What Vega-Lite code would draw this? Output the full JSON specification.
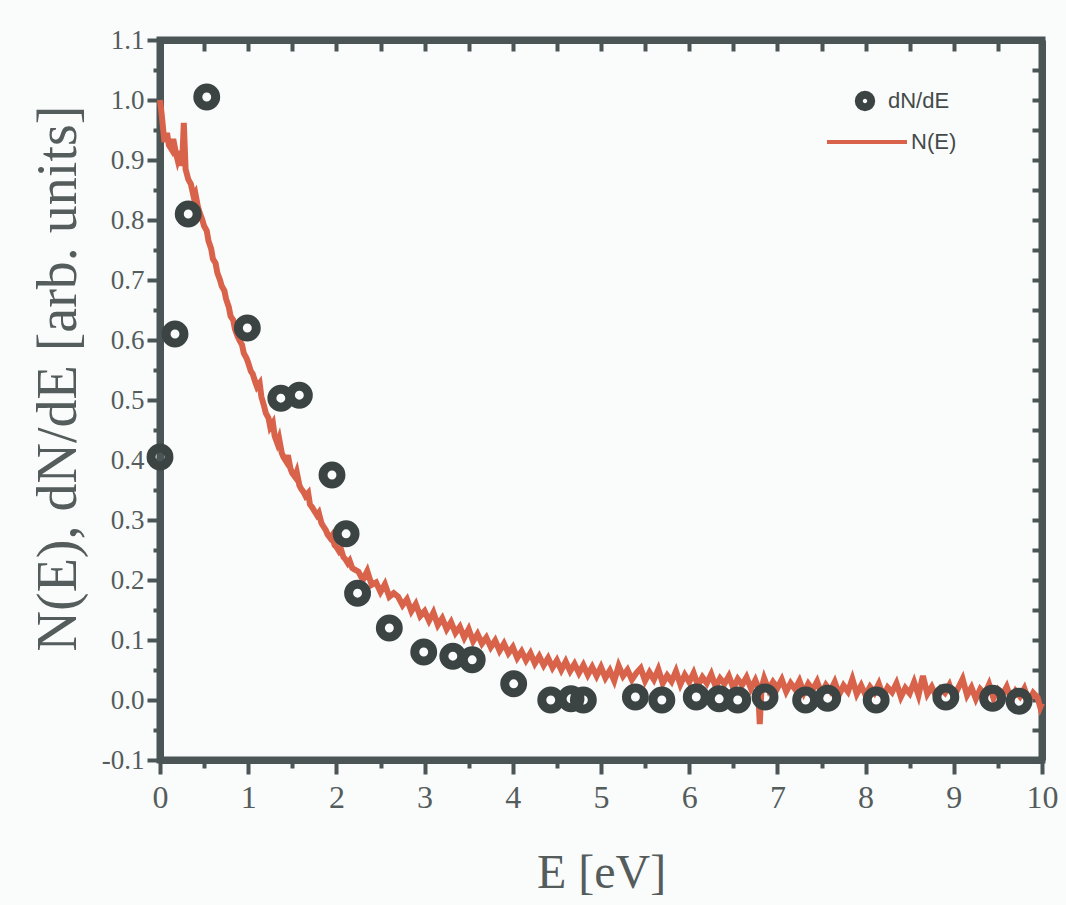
{
  "$schema": "https://vega.github.io/schema/vega-lite/v6.json",
  "width": 882,
  "height": 720,
  "autosize": {"type": "none"},
  "padding": {"left": 160, "top": 40, "right": 24, "bottom": 145},
  "background": "#fafcfc",
  "config": {
    "view": {"stroke": "#4b5556", "strokeWidth": 7},
    "axis": {"domainWidth": 7, "tickWidth": 4, "domainColor": "#4b5556", "tickColor": "#4b5556", "gridOpacity": 0}
  },
  "datasets": {
    "points": [
      {"E": 0.0, "v": 0.405, "series": "dN/dE"},
      {"E": 0.17, "v": 0.61, "series": "dN/dE"},
      {"E": 0.32, "v": 0.81, "series": "dN/dE"},
      {"E": 0.53, "v": 1.005, "series": "dN/dE"},
      {"E": 0.99, "v": 0.62, "series": "dN/dE"},
      {"E": 1.37, "v": 0.503, "series": "dN/dE"},
      {"E": 1.58, "v": 0.508, "series": "dN/dE"},
      {"E": 1.95, "v": 0.375, "series": "dN/dE"},
      {"E": 2.11, "v": 0.277, "series": "dN/dE"},
      {"E": 2.24, "v": 0.178, "series": "dN/dE"},
      {"E": 2.6, "v": 0.12, "series": "dN/dE"},
      {"E": 2.99, "v": 0.08, "series": "dN/dE"},
      {"E": 3.32, "v": 0.073, "series": "dN/dE"},
      {"E": 3.54, "v": 0.067, "series": "dN/dE"},
      {"E": 4.01, "v": 0.027, "series": "dN/dE"},
      {"E": 4.43, "v": 0.0, "series": "dN/dE"},
      {"E": 4.66, "v": 0.002, "series": "dN/dE"},
      {"E": 4.8, "v": 0.0, "series": "dN/dE"},
      {"E": 5.39, "v": 0.005, "series": "dN/dE"},
      {"E": 5.69, "v": 0.0, "series": "dN/dE"},
      {"E": 6.08, "v": 0.005, "series": "dN/dE"},
      {"E": 6.34, "v": 0.002, "series": "dN/dE"},
      {"E": 6.55, "v": 0.0, "series": "dN/dE"},
      {"E": 6.86, "v": 0.005, "series": "dN/dE"},
      {"E": 7.32, "v": 0.0, "series": "dN/dE"},
      {"E": 7.57, "v": 0.003, "series": "dN/dE"},
      {"E": 8.12, "v": 0.0, "series": "dN/dE"},
      {"E": 8.91, "v": 0.005, "series": "dN/dE"},
      {"E": 9.44, "v": 0.003, "series": "dN/dE"},
      {"E": 9.74, "v": -0.002, "series": "dN/dE"}
    ],
    "curve": [
      {"E": 0.00, "v": 1.000, "series": "N(E)"},
      {"E": 0.02, "v": 0.975, "series": "N(E)"},
      {"E": 0.05, "v": 0.930, "series": "N(E)"},
      {"E": 0.08, "v": 0.945, "series": "N(E)"},
      {"E": 0.10, "v": 0.925, "series": "N(E)"},
      {"E": 0.13, "v": 0.918, "series": "N(E)"},
      {"E": 0.15, "v": 0.935, "series": "N(E)"},
      {"E": 0.18, "v": 0.912, "series": "N(E)"},
      {"E": 0.20, "v": 0.900, "series": "N(E)"},
      {"E": 0.23, "v": 0.915, "series": "N(E)"},
      {"E": 0.25, "v": 0.890, "series": "N(E)"},
      {"E": 0.27, "v": 0.962, "series": "N(E)"},
      {"E": 0.29, "v": 0.885, "series": "N(E)"},
      {"E": 0.32, "v": 0.868, "series": "N(E)"},
      {"E": 0.35, "v": 0.860, "series": "N(E)"},
      {"E": 0.38, "v": 0.840, "series": "N(E)"},
      {"E": 0.40, "v": 0.845, "series": "N(E)"},
      {"E": 0.43, "v": 0.822, "series": "N(E)"},
      {"E": 0.45, "v": 0.812, "series": "N(E)"},
      {"E": 0.48, "v": 0.800, "series": "N(E)"},
      {"E": 0.50, "v": 0.790, "series": "N(E)"},
      {"E": 0.53, "v": 0.782, "series": "N(E)"},
      {"E": 0.55, "v": 0.765, "series": "N(E)"},
      {"E": 0.58, "v": 0.752, "series": "N(E)"},
      {"E": 0.60, "v": 0.735, "series": "N(E)"},
      {"E": 0.63, "v": 0.728, "series": "N(E)"},
      {"E": 0.65, "v": 0.712, "series": "N(E)"},
      {"E": 0.68, "v": 0.700, "series": "N(E)"},
      {"E": 0.70, "v": 0.690, "series": "N(E)"},
      {"E": 0.73, "v": 0.682, "series": "N(E)"},
      {"E": 0.75, "v": 0.668, "series": "N(E)"},
      {"E": 0.78, "v": 0.655, "series": "N(E)"},
      {"E": 0.80, "v": 0.640, "series": "N(E)"},
      {"E": 0.83, "v": 0.633, "series": "N(E)"},
      {"E": 0.85, "v": 0.618, "series": "N(E)"},
      {"E": 0.88, "v": 0.606, "series": "N(E)"},
      {"E": 0.90, "v": 0.600, "series": "N(E)"},
      {"E": 0.93, "v": 0.592, "series": "N(E)"},
      {"E": 0.95, "v": 0.578, "series": "N(E)"},
      {"E": 0.98, "v": 0.570, "series": "N(E)"},
      {"E": 1.00, "v": 0.562, "series": "N(E)"},
      {"E": 1.03, "v": 0.548, "series": "N(E)"},
      {"E": 1.05, "v": 0.544, "series": "N(E)"},
      {"E": 1.08, "v": 0.530, "series": "N(E)"},
      {"E": 1.10, "v": 0.522, "series": "N(E)"},
      {"E": 1.13, "v": 0.528, "series": "N(E)"},
      {"E": 1.15, "v": 0.505, "series": "N(E)"},
      {"E": 1.18, "v": 0.490, "series": "N(E)"},
      {"E": 1.20, "v": 0.478, "series": "N(E)"},
      {"E": 1.23, "v": 0.470, "series": "N(E)"},
      {"E": 1.25, "v": 0.455, "series": "N(E)"},
      {"E": 1.28, "v": 0.462, "series": "N(E)"},
      {"E": 1.30, "v": 0.440, "series": "N(E)"},
      {"E": 1.33, "v": 0.428, "series": "N(E)"},
      {"E": 1.35, "v": 0.436, "series": "N(E)"},
      {"E": 1.38, "v": 0.412, "series": "N(E)"},
      {"E": 1.40, "v": 0.405, "series": "N(E)"},
      {"E": 1.43, "v": 0.398, "series": "N(E)"},
      {"E": 1.45, "v": 0.408, "series": "N(E)"},
      {"E": 1.48, "v": 0.385, "series": "N(E)"},
      {"E": 1.50, "v": 0.378, "series": "N(E)"},
      {"E": 1.53, "v": 0.372, "series": "N(E)"},
      {"E": 1.55, "v": 0.380, "series": "N(E)"},
      {"E": 1.58, "v": 0.358, "series": "N(E)"},
      {"E": 1.60, "v": 0.352, "series": "N(E)"},
      {"E": 1.63, "v": 0.346, "series": "N(E)"},
      {"E": 1.65, "v": 0.340, "series": "N(E)"},
      {"E": 1.68, "v": 0.345, "series": "N(E)"},
      {"E": 1.70, "v": 0.326, "series": "N(E)"},
      {"E": 1.73, "v": 0.320, "series": "N(E)"},
      {"E": 1.75, "v": 0.315, "series": "N(E)"},
      {"E": 1.78, "v": 0.308, "series": "N(E)"},
      {"E": 1.80, "v": 0.312, "series": "N(E)"},
      {"E": 1.83, "v": 0.295, "series": "N(E)"},
      {"E": 1.85, "v": 0.290, "series": "N(E)"},
      {"E": 1.88, "v": 0.283, "series": "N(E)"},
      {"E": 1.90, "v": 0.276, "series": "N(E)"},
      {"E": 1.93, "v": 0.270, "series": "N(E)"},
      {"E": 1.95, "v": 0.274, "series": "N(E)"},
      {"E": 1.98, "v": 0.258, "series": "N(E)"},
      {"E": 2.00, "v": 0.255, "series": "N(E)"},
      {"E": 2.03, "v": 0.248, "series": "N(E)"},
      {"E": 2.05, "v": 0.252, "series": "N(E)"},
      {"E": 2.08, "v": 0.238, "series": "N(E)"},
      {"E": 2.10, "v": 0.235, "series": "N(E)"},
      {"E": 2.13, "v": 0.228, "series": "N(E)"},
      {"E": 2.15, "v": 0.232, "series": "N(E)"},
      {"E": 2.18, "v": 0.220, "series": "N(E)"},
      {"E": 2.20, "v": 0.218, "series": "N(E)"},
      {"E": 2.25, "v": 0.214, "series": "N(E)"},
      {"E": 2.30, "v": 0.200, "series": "N(E)"},
      {"E": 2.35, "v": 0.215, "series": "N(E)"},
      {"E": 2.40, "v": 0.192, "series": "N(E)"},
      {"E": 2.45, "v": 0.196, "series": "N(E)"},
      {"E": 2.50, "v": 0.180, "series": "N(E)"},
      {"E": 2.55, "v": 0.193, "series": "N(E)"},
      {"E": 2.60, "v": 0.172, "series": "N(E)"},
      {"E": 2.65, "v": 0.178, "series": "N(E)"},
      {"E": 2.70, "v": 0.172, "series": "N(E)"},
      {"E": 2.75, "v": 0.158, "series": "N(E)"},
      {"E": 2.80, "v": 0.168, "series": "N(E)"},
      {"E": 2.85, "v": 0.148, "series": "N(E)"},
      {"E": 2.90, "v": 0.160, "series": "N(E)"},
      {"E": 2.95, "v": 0.140, "series": "N(E)"},
      {"E": 3.00, "v": 0.148, "series": "N(E)"},
      {"E": 3.05, "v": 0.132, "series": "N(E)"},
      {"E": 3.10, "v": 0.146, "series": "N(E)"},
      {"E": 3.15, "v": 0.125, "series": "N(E)"},
      {"E": 3.20, "v": 0.136, "series": "N(E)"},
      {"E": 3.25, "v": 0.118, "series": "N(E)"},
      {"E": 3.30, "v": 0.130, "series": "N(E)"},
      {"E": 3.35, "v": 0.112, "series": "N(E)"},
      {"E": 3.40, "v": 0.122, "series": "N(E)"},
      {"E": 3.45, "v": 0.104, "series": "N(E)"},
      {"E": 3.50, "v": 0.118, "series": "N(E)"},
      {"E": 3.55, "v": 0.098, "series": "N(E)"},
      {"E": 3.60, "v": 0.110, "series": "N(E)"},
      {"E": 3.65, "v": 0.094, "series": "N(E)"},
      {"E": 3.70, "v": 0.104, "series": "N(E)"},
      {"E": 3.75, "v": 0.088, "series": "N(E)"},
      {"E": 3.80, "v": 0.099, "series": "N(E)"},
      {"E": 3.85, "v": 0.082, "series": "N(E)"},
      {"E": 3.90, "v": 0.094, "series": "N(E)"},
      {"E": 3.95, "v": 0.078, "series": "N(E)"},
      {"E": 4.00, "v": 0.088, "series": "N(E)"},
      {"E": 4.05, "v": 0.070, "series": "N(E)"},
      {"E": 4.10, "v": 0.081, "series": "N(E)"},
      {"E": 4.15, "v": 0.066, "series": "N(E)"},
      {"E": 4.20, "v": 0.078, "series": "N(E)"},
      {"E": 4.25, "v": 0.061, "series": "N(E)"},
      {"E": 4.30, "v": 0.073, "series": "N(E)"},
      {"E": 4.35, "v": 0.058, "series": "N(E)"},
      {"E": 4.40, "v": 0.070, "series": "N(E)"},
      {"E": 4.45, "v": 0.054, "series": "N(E)"},
      {"E": 4.50, "v": 0.066, "series": "N(E)"},
      {"E": 4.55, "v": 0.050, "series": "N(E)"},
      {"E": 4.60, "v": 0.064, "series": "N(E)"},
      {"E": 4.65, "v": 0.048, "series": "N(E)"},
      {"E": 4.70, "v": 0.060, "series": "N(E)"},
      {"E": 4.75, "v": 0.045, "series": "N(E)"},
      {"E": 4.80, "v": 0.058, "series": "N(E)"},
      {"E": 4.85, "v": 0.042, "series": "N(E)"},
      {"E": 4.90, "v": 0.055, "series": "N(E)"},
      {"E": 4.95, "v": 0.040, "series": "N(E)"},
      {"E": 5.00, "v": 0.055, "series": "N(E)"},
      {"E": 5.05, "v": 0.037, "series": "N(E)"},
      {"E": 5.10, "v": 0.049, "series": "N(E)"},
      {"E": 5.15, "v": 0.032, "series": "N(E)"},
      {"E": 5.20, "v": 0.057, "series": "N(E)"},
      {"E": 5.25, "v": 0.040, "series": "N(E)"},
      {"E": 5.30, "v": 0.050, "series": "N(E)"},
      {"E": 5.35, "v": 0.034, "series": "N(E)"},
      {"E": 5.40, "v": 0.045, "series": "N(E)"},
      {"E": 5.45, "v": 0.053, "series": "N(E)"},
      {"E": 5.50, "v": 0.032, "series": "N(E)"},
      {"E": 5.55, "v": 0.046, "series": "N(E)"},
      {"E": 5.60, "v": 0.034, "series": "N(E)"},
      {"E": 5.65, "v": 0.051, "series": "N(E)"},
      {"E": 5.70, "v": 0.028, "series": "N(E)"},
      {"E": 5.75, "v": 0.041, "series": "N(E)"},
      {"E": 5.80, "v": 0.031, "series": "N(E)"},
      {"E": 5.85, "v": 0.048, "series": "N(E)"},
      {"E": 5.90, "v": 0.026, "series": "N(E)"},
      {"E": 5.95, "v": 0.042, "series": "N(E)"},
      {"E": 6.00, "v": 0.030, "series": "N(E)"},
      {"E": 6.05, "v": 0.045, "series": "N(E)"},
      {"E": 6.10, "v": 0.024, "series": "N(E)"},
      {"E": 6.15, "v": 0.038, "series": "N(E)"},
      {"E": 6.20, "v": 0.028, "series": "N(E)"},
      {"E": 6.25, "v": 0.043, "series": "N(E)"},
      {"E": 6.30, "v": 0.022, "series": "N(E)"},
      {"E": 6.35, "v": 0.036, "series": "N(E)"},
      {"E": 6.40, "v": 0.027, "series": "N(E)"},
      {"E": 6.45, "v": 0.040, "series": "N(E)"},
      {"E": 6.50, "v": 0.020, "series": "N(E)"},
      {"E": 6.55, "v": 0.035, "series": "N(E)"},
      {"E": 6.60, "v": 0.025, "series": "N(E)"},
      {"E": 6.65, "v": 0.038, "series": "N(E)"},
      {"E": 6.70, "v": 0.019, "series": "N(E)"},
      {"E": 6.75, "v": 0.033, "series": "N(E)"},
      {"E": 6.78, "v": 0.022, "series": "N(E)"},
      {"E": 6.80, "v": -0.040, "series": "N(E)"},
      {"E": 6.82, "v": 0.020, "series": "N(E)"},
      {"E": 6.85, "v": 0.036, "series": "N(E)"},
      {"E": 6.90, "v": 0.017, "series": "N(E)"},
      {"E": 6.95, "v": 0.030, "series": "N(E)"},
      {"E": 7.00, "v": 0.020, "series": "N(E)"},
      {"E": 7.05, "v": 0.034, "series": "N(E)"},
      {"E": 7.10, "v": 0.014, "series": "N(E)"},
      {"E": 7.15, "v": 0.028, "series": "N(E)"},
      {"E": 7.20, "v": 0.018, "series": "N(E)"},
      {"E": 7.25, "v": 0.032, "series": "N(E)"},
      {"E": 7.30, "v": 0.012, "series": "N(E)"},
      {"E": 7.35, "v": 0.027, "series": "N(E)"},
      {"E": 7.40, "v": 0.017, "series": "N(E)"},
      {"E": 7.45, "v": 0.031, "series": "N(E)"},
      {"E": 7.50, "v": 0.010, "series": "N(E)"},
      {"E": 7.55, "v": 0.025, "series": "N(E)"},
      {"E": 7.60, "v": 0.015, "series": "N(E)"},
      {"E": 7.65, "v": 0.030, "series": "N(E)"},
      {"E": 7.70, "v": 0.009, "series": "N(E)"},
      {"E": 7.75, "v": 0.024, "series": "N(E)"},
      {"E": 7.80, "v": 0.014, "series": "N(E)"},
      {"E": 7.85, "v": 0.035, "series": "N(E)"},
      {"E": 7.90, "v": 0.010, "series": "N(E)"},
      {"E": 7.95, "v": 0.024, "series": "N(E)"},
      {"E": 8.00, "v": 0.008, "series": "N(E)"},
      {"E": 8.05, "v": 0.022, "series": "N(E)"},
      {"E": 8.10, "v": 0.012, "series": "N(E)"},
      {"E": 8.15, "v": 0.027, "series": "N(E)"},
      {"E": 8.20, "v": 0.006, "series": "N(E)"},
      {"E": 8.25, "v": 0.021, "series": "N(E)"},
      {"E": 8.30, "v": 0.013, "series": "N(E)"},
      {"E": 8.35, "v": 0.028, "series": "N(E)"},
      {"E": 8.40, "v": 0.005, "series": "N(E)"},
      {"E": 8.45, "v": 0.020, "series": "N(E)"},
      {"E": 8.50, "v": 0.011, "series": "N(E)"},
      {"E": 8.55, "v": 0.030, "series": "N(E)"},
      {"E": 8.60, "v": 0.008, "series": "N(E)"},
      {"E": 8.65, "v": 0.040, "series": "N(E)"},
      {"E": 8.70, "v": 0.010, "series": "N(E)"},
      {"E": 8.75, "v": 0.022, "series": "N(E)"},
      {"E": 8.80, "v": 0.006, "series": "N(E)"},
      {"E": 8.85, "v": 0.019, "series": "N(E)"},
      {"E": 8.90, "v": 0.012, "series": "N(E)"},
      {"E": 8.95, "v": 0.025, "series": "N(E)"},
      {"E": 9.00, "v": 0.004, "series": "N(E)"},
      {"E": 9.05, "v": 0.020, "series": "N(E)"},
      {"E": 9.10, "v": 0.035, "series": "N(E)"},
      {"E": 9.15, "v": 0.008, "series": "N(E)"},
      {"E": 9.20, "v": 0.021, "series": "N(E)"},
      {"E": 9.25, "v": 0.002, "series": "N(E)"},
      {"E": 9.30, "v": 0.018, "series": "N(E)"},
      {"E": 9.35, "v": 0.010, "series": "N(E)"},
      {"E": 9.40, "v": 0.026, "series": "N(E)"},
      {"E": 9.45, "v": 0.003, "series": "N(E)"},
      {"E": 9.50, "v": 0.017, "series": "N(E)"},
      {"E": 9.55, "v": 0.008, "series": "N(E)"},
      {"E": 9.60, "v": 0.022, "series": "N(E)"},
      {"E": 9.65, "v": 0.001, "series": "N(E)"},
      {"E": 9.70, "v": 0.015, "series": "N(E)"},
      {"E": 9.75, "v": 0.006, "series": "N(E)"},
      {"E": 9.80, "v": 0.019, "series": "N(E)"},
      {"E": 9.85, "v": -0.002, "series": "N(E)"},
      {"E": 9.90, "v": 0.012, "series": "N(E)"},
      {"E": 9.95, "v": 0.004, "series": "N(E)"},
      {"E": 9.98, "v": -0.012, "series": "N(E)"},
      {"E": 10.00, "v": -0.005, "series": "N(E)"}
    ]
  },
  "resolve": {"axis": {"x": "independent", "y": "independent"}},
  "layer": [
    {
      "data": {"name": "curve"},
      "mark": {"type": "line", "strokeWidth": 6},
      "encoding": {
        "x": {
          "field": "E", "type": "quantitative",
          "scale": {"domain": [0, 10], "nice": false},
          "axis": {
            "orient": "bottom",
            "gridOpacity": 0,
            "title": "E [eV]",
            "titleFont": "Liberation Serif",
            "titleFontWeight": "normal",
            "titleColor": "#555c5c",
            "titleFontSize": 48,
            "titlePadding": 36,
            "values": [0, 1, 2, 3, 4, 5, 6, 7, 8, 9, 10],
            "labelFont": "Liberation Serif",
            "labelColor": "#555c5c",
            "labelFontSize": 32,
            "labelPadding": 8,
            "labelFlush": false,
            "domainWidth": 7,
            "domainColor": "#4b5556",
            "tickSize": 14,
            "tickWidth": 4,
            "tickColor": "#4b5556"
          }
        },
        "y": {
          "field": "v", "type": "quantitative",
          "scale": {"domain": [-0.1, 1.1], "nice": false},
          "axis": {
            "orient": "left",
            "gridOpacity": 0,
            "title": "N(E), dN/dE [arb. units]",
            "titleFont": "Liberation Serif",
            "titleFontWeight": "normal",
            "titleColor": "#555c5c",
            "titleFontSize": 56,
            "titleX": -85,
            "titleY": 338,
            "titleBaseline": "alphabetic",
            "values": [-0.1, 0, 0.1, 0.2, 0.3, 0.4, 0.5, 0.6, 0.7, 0.8, 0.9, 1, 1.1],
            "labelExpr": "replace(format(datum.value, '.1f'), '\u2212', '-')",
            "labelFont": "Liberation Serif",
            "labelColor": "#555c5c",
            "labelFontSize": 27,
            "labelPadding": 3,
            "labelFlush": false,
            "domainWidth": 7,
            "domainColor": "#4b5556",
            "tickSize": 13,
            "tickWidth": 4,
            "tickColor": "#4b5556"
          }
        },
        "color": {
          "field": "series", "type": "nominal",
          "scale": {"domain": ["N(E)"], "range": ["#d9634a"]},
          "legend": {
            "title": null,
            "orient": "none",
            "legendX": 665,
            "legendY": 60,
            "padding": 0,
            "symbolType": "stroke",
            "symbolSize": 6400,
            "symbolStrokeWidth": 4,
            "labelFont": "Liberation Sans",
            "labelFontSize": 22,
            "labelColor": "#444a4a",
            "labelOffset": 2
          }
        }
      }
    },
    {
      "data": {"name": "points"},
      "mark": {"type": "point", "filled": false, "strokeWidth": 9, "size": 320, "color": "#3b4343", "opacity": 1},
      "encoding": {
        "x": {
          "field": "E", "type": "quantitative",
          "scale": {"domain": [0, 10], "nice": false},
          "axis": {
            "orient": "bottom",
            "offset": -720,
            "gridOpacity": 0,
            "title": null,
            "labels": false,
            "values": [0, 0.5, 1, 1.5, 2, 2.5, 3, 3.5, 4, 4.5, 5, 5.5, 6, 6.5, 7, 7.5, 8, 8.5, 9, 9.5, 10],
            "domainWidth": 7,
            "domainColor": "#4b5556",
            "tickSize": 11,
            "tickWidth": 4,
            "tickColor": "#4b5556"
          }
        },
        "y": {
          "field": "v", "type": "quantitative",
          "scale": {"domain": [-0.1, 1.1], "nice": false},
          "axis": {
            "orient": "left",
            "offset": -882,
            "gridOpacity": 0,
            "title": null,
            "labels": false,
            "values": [-0.1, -0.05, 0, 0.05, 0.1, 0.15, 0.2, 0.25, 0.3, 0.35, 0.4, 0.45, 0.5, 0.55, 0.6, 0.65, 0.7, 0.75, 0.8, 0.85, 0.9, 0.95, 1, 1.05, 1.1],
            "domainWidth": 7,
            "domainColor": "#4b5556",
            "tickSize": 10,
            "tickWidth": 4,
            "tickColor": "#4b5556"
          }
        },
        "shape": {
          "field": "series", "type": "nominal",
          "scale": {"domain": ["dN/dE"], "range": ["circle"]},
          "legend": {
            "title": null,
            "orient": "none",
            "legendX": 694,
            "legendY": 50,
            "padding": 0,
            "symbolSize": 154,
            "symbolStrokeWidth": 8,
            "symbolStrokeColor": "#3b4343",
            "symbolFillColor": "transparent",
            "labelFont": "Liberation Sans",
            "labelFontSize": 22,
            "labelColor": "#444a4a",
            "labelOffset": 12
          }
        }
      }
    },
    {
      "data": {"name": "points"},
      "mark": {"type": "point", "opacity": 0},
      "encoding": {
        "x": {
          "field": "E", "type": "quantitative",
          "scale": {"domain": [0, 10], "nice": false},
          "axis": {
            "orient": "bottom",
            "gridOpacity": 0,
            "title": null,
            "labels": false,
            "domain": false,
            "values": [0.5, 1.5, 2.5, 3.5, 4.5, 5.5, 6.5, 7.5, 8.5, 9.5],
            "tickSize": 8,
            "tickWidth": 4,
            "tickColor": "#4b5556"
          }
        },
        "y": {
          "field": "v", "type": "quantitative",
          "scale": {"domain": [-0.1, 1.1], "nice": false},
          "axis": {
            "orient": "left",
            "gridOpacity": 0,
            "title": null,
            "labels": false,
            "domain": false,
            "values": [-0.05, 0.05, 0.15, 0.25, 0.35, 0.45, 0.55, 0.65, 0.75, 0.85, 0.95, 1.05],
            "tickSize": 7,
            "tickWidth": 4,
            "tickColor": "#4b5556"
          }
        }
      }
    }
  ]
}
